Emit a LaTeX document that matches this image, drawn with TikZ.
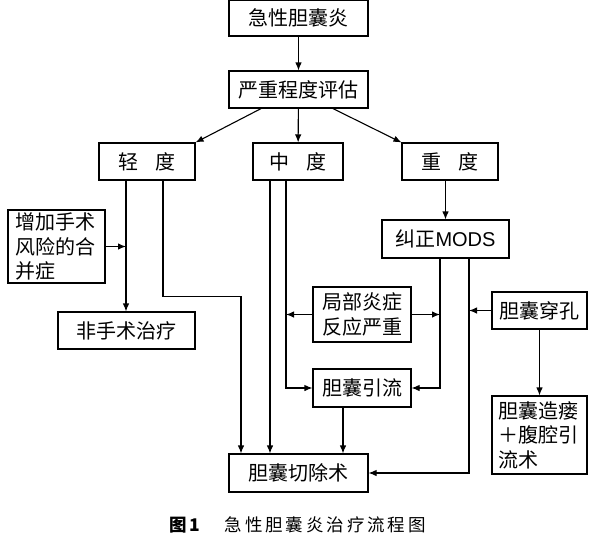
\documentclass[tikz,border=0pt]{standalone}
\usepackage{fontspec}
\setmainfont{Liberation Sans}
\newfontfamily\cjk{Noto Sans CJK SC}
\usetikzlibrary{arrows.meta,calc}

\begin{document}
\begin{tikzpicture}[>={Latex[length=8pt,width=6.5pt]},x=1pt,y=-1pt,line width=1.1pt,
	kasten/.style={draw,rectangle,inner sep=0pt,align=center,
		font=\cjk\fontsize{20}{24.5}\selectfont}]

\useasboundingbox (0,0) rectangle (591,536);

% Kaesten
\node[kasten,minimum width=139pt,minimum height=36pt] (acute) at (298.5,18) {急性胆囊炎};
\node[kasten,minimum width=139pt,minimum height=37pt] (severity) at (298.5,89.5) {严重程度评估};
\node[kasten,minimum width=96pt,minimum height=37pt] (mild) at (147,161.5) {轻\hspace{0.9em}度};
\node[kasten,minimum width=90pt,minimum height=37pt] (moderate) at (298,161.5) {中\hspace{0.9em}度};
\node[kasten,minimum width=96pt,minimum height=37pt] (severe) at (450,161.5) {重\hspace{0.9em}度};
\node[kasten,minimum width=127pt,minimum height=38pt] (mods) at (445.5,239) {纠正{\rmfamily MODS}};
\node[kasten,minimum width=97pt,minimum height=73pt,text width=82pt,align=left] (comorb) at (56.5,246.5) {增加手术\\风险的合\\并症};
\node[kasten,minimum width=137pt,minimum height=37pt] (nonsurg) at (126.5,330.5) {非手术治疗};
\node[kasten,minimum width=98pt,minimum height=55pt] (local) at (362,314.5) {局部炎症\\反应严重};
\node[kasten,minimum width=98pt,minimum height=38pt] (drain) at (362,388) {胆囊引流};
\node[kasten,minimum width=139pt,minimum height=38pt] (chole) at (298.5,473) {胆囊切除术};
\node[kasten,minimum width=95pt,minimum height=37pt] (perf) at (539.5,310.5) {胆囊穿孔};
\node[kasten,minimum width=95pt,minimum height=78pt,text width=82pt,align=left] (stoma) at (539.5,435) {胆囊造瘘\\＋腹腔引\\流术};

% Pfeile oben
\draw[->] (acute) -- (severity);
\draw[->] (severity.207) -- (mild.north east);
\draw[->] (severity) -- (moderate);
\draw[->] (severity.-29) -- (severe.north west);
\draw[->] (severe.south -| mods.north) -- (mods.north);

% leicht
\coordinate (l1) at ($(mild.south)+(-21,0)$);
\coordinate (l2) at ($(mild.south)+(16,0)$);
\coordinate (c1) at ($(chole.north)+(-57.5,0)$);
\draw[->] (l1) -- (l1 |- nonsurg.north);
\draw[->] (comorb.east) -- (comorb.east -| l1);
\draw[->] (l2) -- ++(0,116) -| (c1);

% mittel
\coordinate (m1) at ($(moderate.south)+(-28,0)$);
\coordinate (m2) at ($(moderate.south)+(-12,0)$);
\draw[->] (m1) -- (m1 |- chole.north);
\draw[->] (m2) |- (drain.west);
\draw[->] (local.west) -- (local.west -| m2);

% schwer
\coordinate (s1) at ($(mods.south)+(-5.5,0)$);
\coordinate (s2) at ($(mods.south)+(23.5,0)$);
\draw[->] (s1) |- (drain.east);
\draw[->] (local.east) -- (local.east -| s1);
\draw[->] (s2) |- (chole.east);
\draw[->] (perf.west) -- (perf.west -| s2);
\draw[->] (perf) -- (stoma);

\coordinate (d1) at ($(drain.south)+(-19,0)$);
\draw[->] (d1) -- (d1 |- chole.north);

% Bildunterschrift
\node[font=\cjk\fontsize{17.5}{20}\selectfont] (caption) at (297.5,525)
	{{\bfseries 图\,1}\hspace{1.4em}急\,性\,胆\,囊\,炎\,治\,疗\,流\,程\,图};

\end{tikzpicture}
\end{document}
